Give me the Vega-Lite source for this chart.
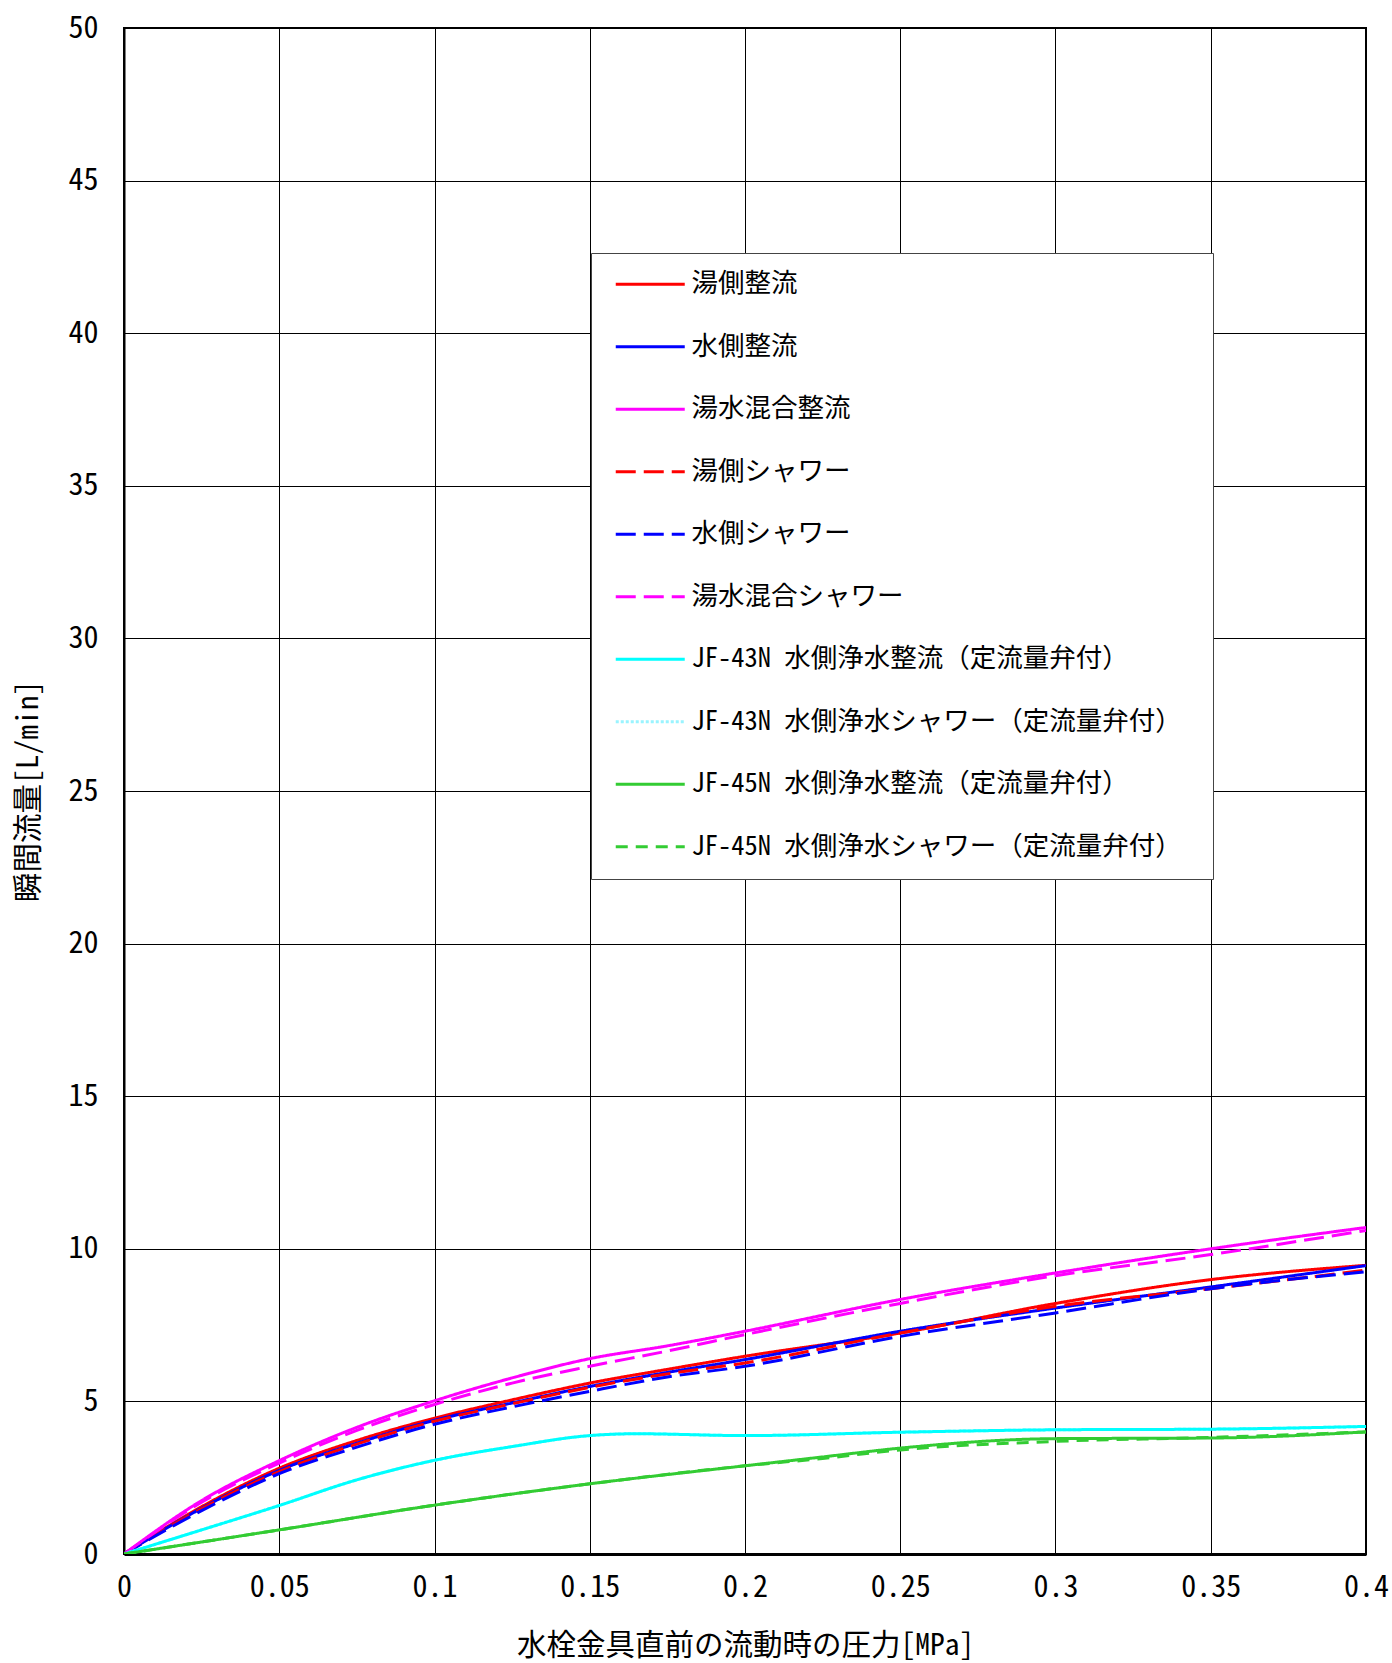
{
  "$schema": "https://vega.github.io/schema/vega-lite/v6.json",
  "width": 1242,
  "height": 1526,
  "autosize": {"type": "none"},
  "padding": {"left": 124, "top": 28, "right": 26, "bottom": 109},
  "background": "white",
  "config": {
    "font": "'Noto Sans Mono CJK JP', 'Noto Sans CJK JP', sans-serif",
    "view": {"stroke": "black", "strokeWidth": 2},
    "axis": {
      "gridColor": "#000000",
      "gridWidth": 1,
      "gridOpacity": 1,
      "ticks": false,
      "labelColor": "#000000",
      "titleColor": "#000000",
      "labelFont": "'Noto Sans Mono CJK JP', 'Noto Sans CJK JP', sans-serif",
      "titleFont": "'Noto Sans Mono CJK JP', 'Noto Sans CJK JP', sans-serif",
      "titleFontWeight": "normal",
      "domainColor": "#000000"
    },
    "legend": {
      "labelFont": "'Noto Sans Mono CJK JP', 'Noto Sans CJK JP', sans-serif"
    }
  },
  "data": {
    "values": [
      {"s": "湯側整流", "p": 0, "q": 0},
      {"s": "湯側整流", "p": 0.025, "q": 1.55},
      {"s": "湯側整流", "p": 0.05, "q": 2.81},
      {"s": "湯側整流", "p": 0.075, "q": 3.72},
      {"s": "湯側整流", "p": 0.1, "q": 4.45},
      {"s": "湯側整流", "p": 0.125, "q": 5.05},
      {"s": "湯側整流", "p": 0.15, "q": 5.6},
      {"s": "湯側整流", "p": 0.175, "q": 6.05},
      {"s": "湯側整流", "p": 0.2, "q": 6.48},
      {"s": "湯側整流", "p": 0.25, "q": 7.24},
      {"s": "湯側整流", "p": 0.3, "q": 8.21},
      {"s": "湯側整流", "p": 0.35, "q": 8.99},
      {"s": "湯側整流", "p": 0.4, "q": 9.46},

      {"s": "水側整流", "p": 0, "q": 0},
      {"s": "水側整流", "p": 0.025, "q": 1.5},
      {"s": "水側整流", "p": 0.05, "q": 2.74},
      {"s": "水側整流", "p": 0.075, "q": 3.63},
      {"s": "水側整流", "p": 0.1, "q": 4.38},
      {"s": "水側整流", "p": 0.125, "q": 4.95},
      {"s": "水側整流", "p": 0.15, "q": 5.49},
      {"s": "水側整流", "p": 0.175, "q": 5.95},
      {"s": "水側整流", "p": 0.2, "q": 6.37},
      {"s": "水側整流", "p": 0.25, "q": 7.3},
      {"s": "水側整流", "p": 0.3, "q": 8.06},
      {"s": "水側整流", "p": 0.35, "q": 8.75},
      {"s": "水側整流", "p": 0.4, "q": 9.45},

      {"s": "湯水混合整流", "p": 0, "q": 0},
      {"s": "湯水混合整流", "p": 0.025, "q": 1.75},
      {"s": "湯水混合整流", "p": 0.05, "q": 3.06},
      {"s": "湯水混合整流", "p": 0.075, "q": 4.15},
      {"s": "湯水混合整流", "p": 0.1, "q": 5.02},
      {"s": "湯水混合整流", "p": 0.125, "q": 5.77},
      {"s": "湯水混合整流", "p": 0.15, "q": 6.4},
      {"s": "湯水混合整流", "p": 0.175, "q": 6.82},
      {"s": "湯水混合整流", "p": 0.2, "q": 7.3},
      {"s": "湯水混合整流", "p": 0.25, "q": 8.34},
      {"s": "湯水混合整流", "p": 0.3, "q": 9.21},
      {"s": "湯水混合整流", "p": 0.35, "q": 10.0},
      {"s": "湯水混合整流", "p": 0.4, "q": 10.7},

      {"s": "湯側シャワー", "p": 0, "q": 0},
      {"s": "湯側シャワー", "p": 0.025, "q": 1.48},
      {"s": "湯側シャワー", "p": 0.05, "q": 2.7},
      {"s": "湯側シャワー", "p": 0.075, "q": 3.6},
      {"s": "湯側シャワー", "p": 0.1, "q": 4.35},
      {"s": "湯側シャワー", "p": 0.125, "q": 4.92},
      {"s": "湯側シャワー", "p": 0.15, "q": 5.46},
      {"s": "湯側シャワー", "p": 0.175, "q": 5.9},
      {"s": "湯側シャワー", "p": 0.2, "q": 6.26},
      {"s": "湯側シャワー", "p": 0.25, "q": 7.24},
      {"s": "湯側シャワー", "p": 0.3, "q": 8.12},
      {"s": "湯側シャワー", "p": 0.35, "q": 8.69},
      {"s": "湯側シャワー", "p": 0.4, "q": 9.3},

      {"s": "水側シャワー", "p": 0, "q": 0},
      {"s": "水側シャワー", "p": 0.025, "q": 1.42},
      {"s": "水側シャワー", "p": 0.05, "q": 2.63},
      {"s": "水側シャワー", "p": 0.075, "q": 3.5},
      {"s": "水側シャワー", "p": 0.1, "q": 4.25},
      {"s": "水側シャワー", "p": 0.125, "q": 4.82},
      {"s": "水側シャワー", "p": 0.15, "q": 5.33},
      {"s": "水側シャワー", "p": 0.175, "q": 5.8},
      {"s": "水側シャワー", "p": 0.2, "q": 6.15},
      {"s": "水側シャワー", "p": 0.25, "q": 7.13},
      {"s": "水側シャワー", "p": 0.3, "q": 7.9},
      {"s": "水側シャワー", "p": 0.35, "q": 8.69},
      {"s": "水側シャワー", "p": 0.4, "q": 9.25},

      {"s": "湯水混合シャワー", "p": 0, "q": 0},
      {"s": "湯水混合シャワー", "p": 0.025, "q": 1.7},
      {"s": "湯水混合シャワー", "p": 0.05, "q": 2.98},
      {"s": "湯水混合シャワー", "p": 0.075, "q": 4.05},
      {"s": "湯水混合シャワー", "p": 0.1, "q": 4.9},
      {"s": "湯水混合シャワー", "p": 0.125, "q": 5.6},
      {"s": "湯水混合シャワー", "p": 0.15, "q": 6.15},
      {"s": "湯水混合シャワー", "p": 0.175, "q": 6.65},
      {"s": "湯水混合シャワー", "p": 0.2, "q": 7.19},
      {"s": "湯水混合シャワー", "p": 0.25, "q": 8.21},
      {"s": "湯水混合シャワー", "p": 0.3, "q": 9.12},
      {"s": "湯水混合シャワー", "p": 0.35, "q": 9.81},
      {"s": "湯水混合シャワー", "p": 0.4, "q": 10.6},

      {"s": "JF-43N  水側浄水シャワー（定流量弁付）", "p": 0, "q": 0},
      {"s": "JF-43N  水側浄水シャワー（定流量弁付）", "p": 0.025, "q": 0.79},
      {"s": "JF-43N  水側浄水シャワー（定流量弁付）", "p": 0.05, "q": 1.59},
      {"s": "JF-43N  水側浄水シャワー（定流量弁付）", "p": 0.075, "q": 2.43},
      {"s": "JF-43N  水側浄水シャワー（定流量弁付）", "p": 0.1, "q": 3.07},
      {"s": "JF-43N  水側浄水シャワー（定流量弁付）", "p": 0.125, "q": 3.52},
      {"s": "JF-43N  水側浄水シャワー（定流量弁付）", "p": 0.15, "q": 3.88},
      {"s": "JF-43N  水側浄水シャワー（定流量弁付）", "p": 0.165, "q": 3.94},
      {"s": "JF-43N  水側浄水シャワー（定流量弁付）", "p": 0.2, "q": 3.88},
      {"s": "JF-43N  水側浄水シャワー（定流量弁付）", "p": 0.25, "q": 3.99},
      {"s": "JF-43N  水側浄水シャワー（定流量弁付）", "p": 0.3, "q": 4.07},
      {"s": "JF-43N  水側浄水シャワー（定流量弁付）", "p": 0.35, "q": 4.09},
      {"s": "JF-43N  水側浄水シャワー（定流量弁付）", "p": 0.4, "q": 4.18},

      {"s": "JF-43N  水側浄水整流（定流量弁付）", "p": 0, "q": 0},
      {"s": "JF-43N  水側浄水整流（定流量弁付）", "p": 0.025, "q": 0.79},
      {"s": "JF-43N  水側浄水整流（定流量弁付）", "p": 0.05, "q": 1.59},
      {"s": "JF-43N  水側浄水整流（定流量弁付）", "p": 0.075, "q": 2.43},
      {"s": "JF-43N  水側浄水整流（定流量弁付）", "p": 0.1, "q": 3.07},
      {"s": "JF-43N  水側浄水整流（定流量弁付）", "p": 0.125, "q": 3.52},
      {"s": "JF-43N  水側浄水整流（定流量弁付）", "p": 0.15, "q": 3.88},
      {"s": "JF-43N  水側浄水整流（定流量弁付）", "p": 0.165, "q": 3.94},
      {"s": "JF-43N  水側浄水整流（定流量弁付）", "p": 0.2, "q": 3.88},
      {"s": "JF-43N  水側浄水整流（定流量弁付）", "p": 0.25, "q": 3.99},
      {"s": "JF-43N  水側浄水整流（定流量弁付）", "p": 0.3, "q": 4.07},
      {"s": "JF-43N  水側浄水整流（定流量弁付）", "p": 0.35, "q": 4.09},
      {"s": "JF-43N  水側浄水整流（定流量弁付）", "p": 0.4, "q": 4.18},

      {"s": "JF-45N  水側浄水シャワー（定流量弁付）", "p": 0, "q": 0},
      {"s": "JF-45N  水側浄水シャワー（定流量弁付）", "p": 0.05, "q": 0.79},
      {"s": "JF-45N  水側浄水シャワー（定流量弁付）", "p": 0.1, "q": 1.6},
      {"s": "JF-45N  水側浄水シャワー（定流量弁付）", "p": 0.15, "q": 2.3},
      {"s": "JF-45N  水側浄水シャワー（定流量弁付）", "p": 0.2, "q": 2.89},
      {"s": "JF-45N  水側浄水シャワー（定流量弁付）", "p": 0.225, "q": 3.13},
      {"s": "JF-45N  水側浄水シャワー（定流量弁付）", "p": 0.25, "q": 3.41},
      {"s": "JF-45N  水側浄水シャワー（定流量弁付）", "p": 0.3, "q": 3.69},
      {"s": "JF-45N  水側浄水シャワー（定流量弁付）", "p": 0.35, "q": 3.82},
      {"s": "JF-45N  水側浄水シャワー（定流量弁付）", "p": 0.4, "q": 4.0},

      {"s": "JF-45N  水側浄水整流（定流量弁付）", "p": 0, "q": 0},
      {"s": "JF-45N  水側浄水整流（定流量弁付）", "p": 0.05, "q": 0.79},
      {"s": "JF-45N  水側浄水整流（定流量弁付）", "p": 0.1, "q": 1.6},
      {"s": "JF-45N  水側浄水整流（定流量弁付）", "p": 0.15, "q": 2.3},
      {"s": "JF-45N  水側浄水整流（定流量弁付）", "p": 0.2, "q": 2.89},
      {"s": "JF-45N  水側浄水整流（定流量弁付）", "p": 0.225, "q": 3.18},
      {"s": "JF-45N  水側浄水整流（定流量弁付）", "p": 0.25, "q": 3.47},
      {"s": "JF-45N  水側浄水整流（定流量弁付）", "p": 0.3, "q": 3.78},
      {"s": "JF-45N  水側浄水整流（定流量弁付）", "p": 0.35, "q": 3.8},
      {"s": "JF-45N  水側浄水整流（定流量弁付）", "p": 0.4, "q": 4.0}
    ]
  },
  "mark": {"type": "line", "interpolate": "monotone", "clip": true},
  "encoding": {
    "x": {
      "field": "p",
      "type": "quantitative",
      "scale": {"domain": [0, 0.4], "nice": false},
      "axis": {
        "title": "水栓金具直前の流動時の圧力[MPa]",
        "values": [0, 0.05, 0.1, 0.15, 0.2, 0.25, 0.3, 0.35, 0.4],
        "format": "~g",
        "labelFontSize": 30,
        "labelPadding": 18,
        "labelFlush": false,
        "labelOverlap": false,
        "titleFontSize": 29.5,
        "titleY": 91,
        "titleBaseline": "middle",
        "domainWidth": 3
      }
    },
    "y": {
      "field": "q",
      "type": "quantitative",
      "scale": {"domain": [0, 50], "nice": false},
      "axis": {
        "title": "瞬間流量[L/min]",
        "values": [0, 5, 10, 15, 20, 25, 30, 35, 40, 45, 50],
        "format": "d",
        "labelFontSize": 30,
        "labelPadding": 26,
        "labelFlush": false,
        "labelOverlap": false,
        "titleFontSize": 29.5,
        "titleX": -96,
        "titleY": 763,
        "titleAngle": -90,
        "titleAlign": "center",
        "titleBaseline": "middle",
        "domainWidth": 2
      }
    },
    "color": {
      "field": "s",
      "type": "nominal",
      "scale": {
        "domain": ["湯側整流", "水側整流", "湯水混合整流", "湯側シャワー", "水側シャワー", "湯水混合シャワー", "JF-43N  水側浄水整流（定流量弁付）", "JF-43N  水側浄水シャワー（定流量弁付）", "JF-45N  水側浄水整流（定流量弁付）", "JF-45N  水側浄水シャワー（定流量弁付）"],
        "range": ["#ff0000", "#0000ff", "#ff00ff", "#ff0000", "#0000ff", "#ff00ff", "#00ffff", "#99f4ff", "#33cc33", "#33cc33"]
      },
      "legend": {
        "title": null,
        "orient": "none",
        "legendX": 467,
        "legendY": 225,
        "padding": 18,
        "fillColor": "white",
        "strokeColor": "#444444",
        "symbolType": "M-3,0H3",
        "symbolSize": 529,
        "symbolOffset": 28,
        "labelOffset": 28,
        "labelFontSize": 26.5,
        "labelColor": "#000000",
        "labelLimit": 1000,
        "rowPadding": 35.5
      }
    },
    "strokeDash": {
      "field": "s",
      "type": "nominal",
      "scale": {
        "domain": ["湯側整流", "水側整流", "湯水混合整流", "湯側シャワー", "水側シャワー", "湯水混合シャワー", "JF-43N  水側浄水整流（定流量弁付）", "JF-43N  水側浄水シャワー（定流量弁付）", "JF-45N  水側浄水整流（定流量弁付）", "JF-45N  水側浄水シャワー（定流量弁付）"],
        "range": [[1, 0], [1, 0], [1, 0], [20, 8], [20, 8], [20, 8], [1, 0], [3, 2], [1, 0], [12, 8]]
      }
    },
    "strokeWidth": {
      "field": "s",
      "type": "nominal",
      "scale": {
        "domain": ["湯側整流", "水側整流", "湯水混合整流", "湯側シャワー", "水側シャワー", "湯水混合シャワー", "JF-43N  水側浄水整流（定流量弁付）", "JF-43N  水側浄水シャワー（定流量弁付）", "JF-45N  水側浄水整流（定流量弁付）", "JF-45N  水側浄水シャワー（定流量弁付）"],
        "range": [3, 3, 3, 3, 3, 3, 3, 1, 2.5, 2.5]
      }
    },
    "order": {"field": "p", "type": "quantitative"}
  }
}
